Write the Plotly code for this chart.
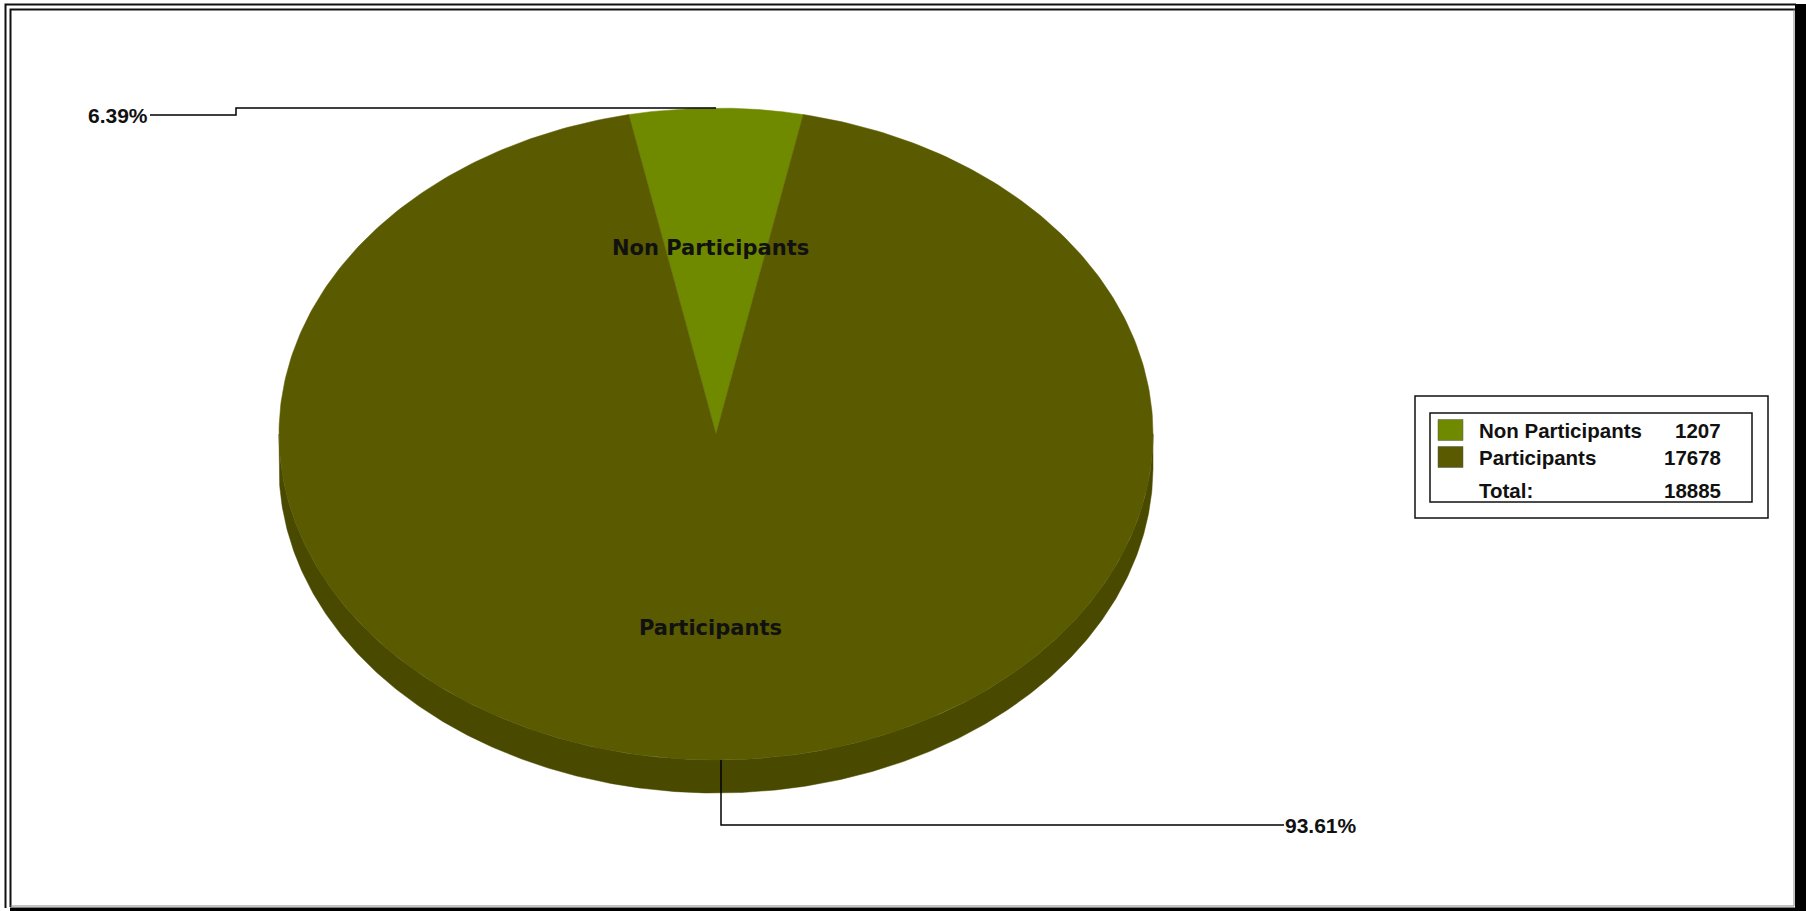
import numpy as np
import plotly.graph_objects as go

# ---- data ----
categories = ["Non Participants", "Participants"]
values = [1207, 17678]
colors = ["#708A00", "#5A5A00"]
side_colors = ["#5A6E00", "#494900"]
total_label = "Total:"

# ---- layout constants (pixel space) ----
W, H = 1806, 911
cx, cy, a, b, depth = 716, 434, 437, 326, 33

total = sum(values)
fracs = [v / total for v in values]
start = 90 + fracs[0] * 360 / 2  # first slice centred at top, clockwise

# slice angle ranges (degrees, clockwise => decreasing)
ranges = []
t = start
for f in fracs:
    ranges.append((t, t - f * 360))
    t -= f * 360


def arc(t0, t1, n=400, dy=0.0):
    ts = np.radians(np.linspace(t0, t1, n))
    return cx + a * np.cos(ts), cy - b * np.sin(ts) + dy


fig = go.Figure()

# 3D side wall (front half only: t in [-180, 0] mod 360)
for (t0, t1), sc in zip(ranges, side_colors):
    for k in (-720, -360, 0, 360):
        lo, hi = -180 + k, 0 + k
        s_hi = min(t0, hi)
        s_lo = max(t1, lo)
        if s_hi > s_lo:
            xt, yt = arc(s_hi, s_lo)
            xb, yb = arc(s_lo, s_hi, dy=depth)
            xs = np.concatenate([xt, xb, xt[:1]])
            ys = np.concatenate([yt, yb, yt[:1]])
            fig.add_trace(go.Scatter(x=xs, y=ys, fill="toself", mode="lines",
                                     fillcolor=sc, line=dict(color=sc, width=0.5),
                                     hoverinfo="skip", showlegend=False))

# top faces
for (t0, t1), c, name, v in zip(ranges, colors, categories, values):
    xa, ya = arc(t0, t1)
    xs = np.concatenate([[cx], xa, [cx]])
    ys = np.concatenate([[cy], ya, [cy]])
    fig.add_trace(go.Scatter(x=xs, y=ys, fill="toself", mode="lines",
                             fillcolor=c, line=dict(color=c, width=0.5),
                             name=name, text=f"{name}: {v}", hoverinfo="text",
                             showlegend=False))

annotations = []
shapes = []

label_font = dict(family="DejaVu Sans", size=21, color="#111111")
pct_font = dict(family="Liberation Sans", size=21, color="#111111")

# slice labels and percentage leaders
for i, ((t0, t1), name, f) in enumerate(zip(ranges, categories, fracs)):
    mid = np.radians((t0 + t1) / 2)
    cm, sm = np.cos(mid), np.sin(mid)
    lx = cx + (0 if abs(cm) < 1e-6 else 0.58 * a * cm) - 6
    ly = cy - (0.57 if sm > 0 else 0.595) * b * sm
    annotations.append(dict(x=lx, y=ly, xref="x", yref="y", text=f"<b>{name}</b>",
                            showarrow=False, font=label_font, xanchor="center", yanchor="middle"))
    ex = cx + a * cm
    ey = cy - b * sm
    pct = f"<b>{f*100:.2f}%</b>"
    if sm > 0:
        # upper label, to the left
        pts = [(ex, ey), (236, ey), (236, ey + 7), (150, ey + 7)]
        annotations.append(dict(x=150, y=ey + 7, xref="x", yref="y", text=pct, showarrow=False,
                                font=pct_font, xanchor="right", yanchor="middle"))
    else:
        pts = [(ex + 5, ey), (ex + 5, 825), (1284, 825)]
        annotations.append(dict(x=1283, y=825, xref="x", yref="y", text=pct, showarrow=False,
                                font=pct_font, xanchor="left", yanchor="middle"))
    path = "M " + " L ".join(f"{px:.1f},{py:.1f}" for px, py in pts)
    shapes.append(dict(type="path", path=path, xref="x", yref="y",
                       line=dict(color="#000000", width=1.5)))

# legend box
shapes.append(dict(type="rect", x0=1415, y0=396, x1=1768, y1=518, xref="x", yref="y",
                   line=dict(color="#111111", width=1.5), fillcolor="white", layer="below"))
shapes.append(dict(type="rect", x0=1430, y0=413, x1=1752, y1=502, xref="x", yref="y",
                   line=dict(color="#111111", width=1.5)))
leg_font = dict(family="Liberation Sans", size=20.5, color="#111111")
row_y = [430, 457]
for name, v, c, ry in zip(categories, values, colors, row_y):
    shapes.append(dict(type="rect", x0=1438, y0=ry - 10.5, x1=1463, y1=ry + 10.5, xref="x", yref="y",
                       line=dict(color="#555555", width=0.5), fillcolor=c))
    annotations.append(dict(x=1477, y=ry, xref="x", yref="y", text=f"<b>{name}</b>", showarrow=False,
                            font=leg_font, xanchor="left", yanchor="middle"))
    annotations.append(dict(x=1723, y=ry, xref="x", yref="y", text=f"<b>{v}</b>", showarrow=False,
                            font=leg_font, xanchor="right", yanchor="middle"))
annotations.append(dict(x=1477, y=490, xref="x", yref="y", text=f"<b>{total_label}</b>", showarrow=False,
                        font=leg_font, xanchor="left", yanchor="middle"))
annotations.append(dict(x=1723, y=490, xref="x", yref="y", text=f"<b>{total}</b>", showarrow=False,
                        font=leg_font, xanchor="right", yanchor="middle"))

# outer double frame with drop shadow (right / bottom)
shapes.append(dict(type="path", path="M 5.5,908 L 5.5,4.5 L 1796,4.5", xref="x", yref="y",
                   line=dict(color="#111111", width=2)))
shapes.append(dict(type="path", path="M 10.5,907 L 10.5,9.5 L 1796,9.5", xref="x", yref="y",
                   line=dict(color="#111111", width=2)))
shapes.append(dict(type="path", path="M 10.5,906 L 1794,906 L 1794,9.5", xref="x", yref="y",
                   line=dict(color="#888888", width=1)))
shapes.append(dict(type="rect", x0=1795, y0=4, x1=1806, y1=911, xref="x", yref="y",
                   line=dict(width=0), fillcolor="#000000"))
shapes.append(dict(type="rect", x0=10, y0=907.5, x1=1806, y1=911, xref="x", yref="y",
                   line=dict(width=0), fillcolor="#000000"))

fig.update_layout(
    width=W, height=H,
    margin=dict(l=0, r=0, t=0, b=0),
    paper_bgcolor="white", plot_bgcolor="white",
    xaxis=dict(range=[0, W], visible=False, fixedrange=True),
    yaxis=dict(range=[H, 0], visible=False, fixedrange=True),
    shapes=shapes, annotations=annotations,
    showlegend=False,
)

fig.write_html("out.html", config={"displayModeBar": False},
               post_script="document.body.style.margin='0';document.body.style.overflow='hidden';")
